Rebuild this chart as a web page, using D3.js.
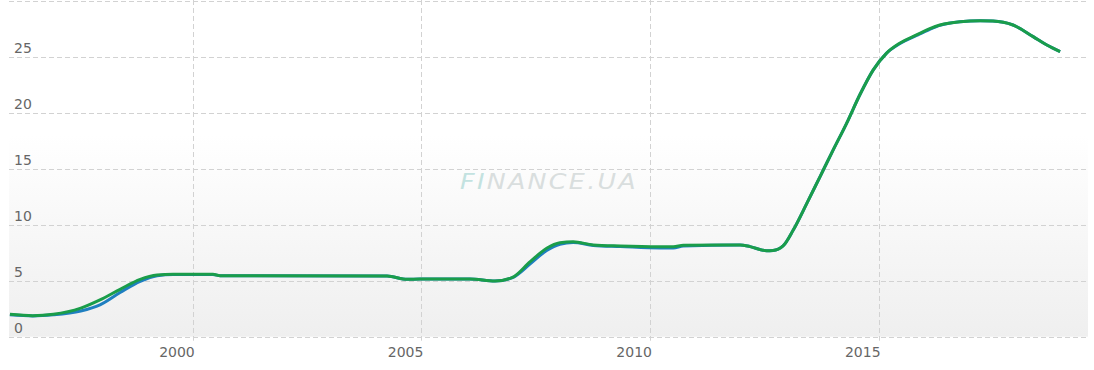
<!DOCTYPE html>
<html>
<head>
<meta charset="utf-8">
<script src="https://cdn.jsdelivr.net/npm/d3@7"></script>
<style>
  body { margin: 0; background: #fff; }
  svg { display: block; font-family: "DejaVu Sans", Verdana, sans-serif; }
</style>
</head>
<body>
<svg id="chart" width="1094" height="370"></svg>
<script>
// ================= data =================
var years = [1996.0, 1996.5, 1996.95, 1997.55, 1997.97, 1998.41, 1998.85, 1999.22, 1999.57,
             2000.44, 2000.6, 2001.03, 2004.25, 2004.69, 2004.97, 2006.06, 2006.61, 2006.98,
             2007.38, 2007.74, 2008.03, 2008.32, 2008.76, 2009.35, 2010.22, 2010.51, 2010.73,
             2011.97, 2012.19, 2012.55, 2012.69, 2012.91, 2013.13, 2013.43, 2013.72, 2014.01,
             2014.30, 2014.59, 2014.88, 2015.17, 2015.46, 2015.83, 2016.12, 2016.34, 2016.78,
             2017.22, 2017.50, 2017.94, 2018.38, 2018.68, 2018.97];

var seriesBlue = [1.95, 1.85, 1.95, 2.3, 2.85, 3.95, 4.95, 5.45, 5.55,
                  5.55, 5.45, 5.45, 5.42, 5.12, 5.15, 5.15, 4.97, 5.25,
                  6.5, 7.7, 8.25, 8.4, 8.15, 8.05, 7.92, 7.93, 8.1,
                  8.19, 8.04, 7.68, 7.7, 8.1, 9.5, 11.9, 14.3, 16.7,
                  19.05, 21.6, 23.8, 25.3, 26.15, 26.9, 27.45, 27.8, 28.13,
                  28.21, 28.19, 27.83, 26.79, 26.04, 25.45];

var seriesGreen = [2.0, 1.88, 2.0, 2.55, 3.28, 4.23, 5.12, 5.5, 5.57,
                   5.57, 5.45, 5.45, 5.42, 5.12, 5.15, 5.15, 4.97, 5.27,
                   6.7, 7.89, 8.39, 8.48, 8.19, 8.1, 8.04, 8.04, 8.16,
                   8.19, 8.04, 7.68, 7.7, 8.1, 9.5, 11.9, 14.3, 16.7,
                   19.05, 21.6, 23.8, 25.3, 26.2, 26.94, 27.5, 27.83, 28.13,
                   28.21, 28.19, 27.83, 26.79, 26.04, 25.45];

var yTicks = [0, 5, 10, 15, 20, 25];
var xTicks = [2000, 2005, 2010, 2015];

(function() {

// ================= layout =================
var plotLeft = 9, plotRight = 1088, plotTop = 0.7, plotBottom = 336.7;
var svg = d3.select("#chart");

var x = d3.scaleLinear().domain([1995.98, 2019.58]).range([plotLeft, plotRight]);
var y = d3.scaleLinear().domain([0, 30]).range([plotBottom, plotTop]);

// background gradient
var defs = svg.append("defs");
var grad = defs.append("linearGradient")
    .attr("id", "bg").attr("x1", 0).attr("y1", 0).attr("x2", 0).attr("y2", 1);
grad.append("stop").attr("offset", "0%").attr("stop-color", "#ffffff");
grad.append("stop").attr("offset", "40%").attr("stop-color", "#ffffff");
grad.append("stop").attr("offset", "100%").attr("stop-color", "#efefef");

svg.append("rect")
    .attr("x", plotLeft).attr("y", 0)
    .attr("width", plotRight - plotLeft).attr("height", plotBottom)
    .attr("fill", "url(#bg)");

// ================= grid =================
svg.append("g")
    .attr("class", "grid y-grid")
    .selectAll("line")
    .data([0, 5, 10, 15, 20, 25, 30])
    .enter()
    .append("line")
      .attr("x1", plotLeft).attr("x2", plotRight)
      .attr("y1", function(d) { return Math.round(y(d)) + 0.5; })
      .attr("y2", function(d) { return Math.round(y(d)) + 0.5; })
      .attr("stroke", "#d2d2d2")
      .attr("stroke-dasharray", "5,3");

svg.append("g")
    .attr("class", "grid x-grid")
    .selectAll("line")
    .data(xTicks)
    .enter()
    .append("line")
      .attr("x1", function(d) { return Math.round(x(d)) + 0.5; })
      .attr("x2", function(d) { return Math.round(x(d)) + 0.5; })
      .attr("y1", 0).attr("y2", plotBottom + 4)
      .attr("stroke", "#d2d2d2")
      .attr("stroke-dasharray", "5,3");

// ================= watermark =================
var wm = svg.append("text")
    .attr("x", 460).attr("y", 189)
    .attr("textLength", 178)
    .attr("lengthAdjust", "spacingAndGlyphs")
    .style("font-size", "22px")
    .style("font-style", "italic")
    .style("letter-spacing", "2px");
wm.append("tspan").attr("fill", "#c3e2e0").text("FI");
wm.append("tspan").attr("fill", "#d9dede").text("NANCE.UA");

// ================= axis labels =================
svg.append("g")
    .attr("class", "y-labels")
    .selectAll("text")
    .data(yTicks)
    .enter()
    .append("text")
      .attr("x", 14)
      .attr("y", function(d) { return y(d) - 4; })
      .attr("fill", "#666")
      .style("font-size", "14px")
      .text(function(d) { return d; });

svg.append("g")
    .attr("class", "x-labels")
    .selectAll("text")
    .data(xTicks)
    .enter()
    .append("text")
      .attr("x", function(d) { return x(d) + 2; })
      .attr("y", 357)
      .attr("text-anchor", "end")
      .attr("fill", "#666")
      .style("font-size", "14px")
      .text(function(d) { return d; });

// ================= lines =================
var line = d3.line()
    .x(function(d) { return x(d[0]); })
    .y(function(d) { return y(d[1]); })
    .curve(d3.curveMonotoneX);

svg.append("path")
    .attr("d", line(d3.zip(years, seriesBlue)))
    .attr("fill", "none")
    .attr("stroke", "#1f7fc0")
    .attr("stroke-width", 3)
    .attr("stroke-linejoin", "round");

svg.append("path")
    .attr("d", line(d3.zip(years, seriesGreen)))
    .attr("fill", "none")
    .attr("stroke", "#1a9d4a")
    .attr("stroke-width", 3)
    .attr("stroke-linejoin", "round");

})();
</script>
</body>
</html>
